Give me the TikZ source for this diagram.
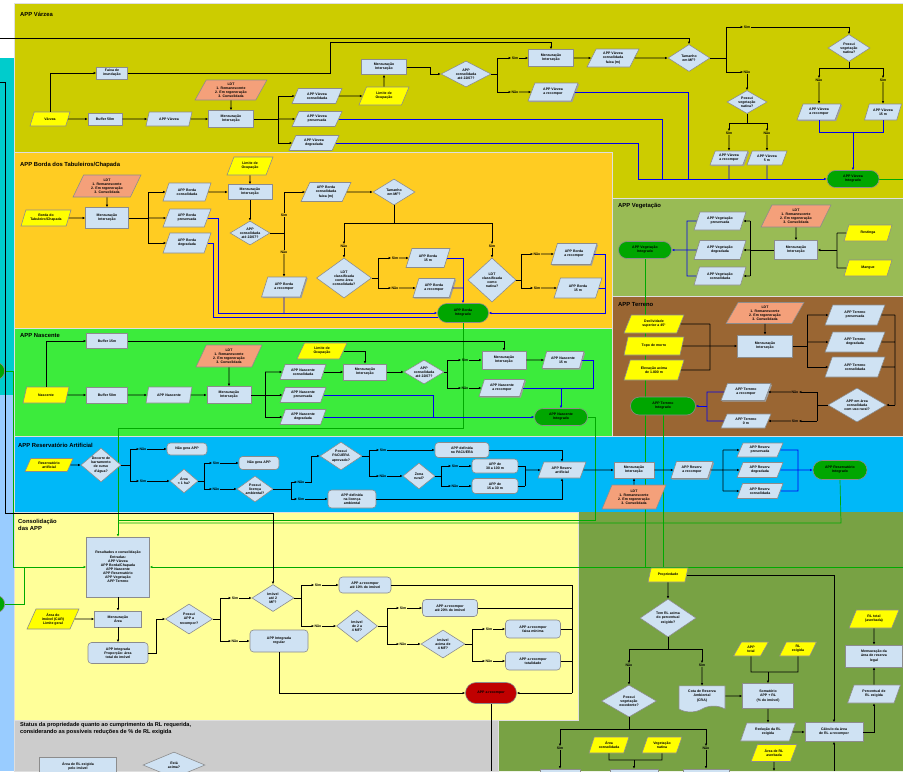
\documentclass[tikz,border=0pt]{standalone}
\usepackage{fontspec}
\setmainfont{Liberation Sans}
\usepackage{tikz}
\usetikzlibrary{arrows.meta,shapes.geometric,shapes.misc,shapes.symbols,shadows,backgrounds}
\definecolor{apvarzea}{HTML}{CCCC00}
\definecolor{apborda}{HTML}{FFCC22}
\definecolor{apveget}{HTML}{99BB55}
\definecolor{apterreno}{HTML}{9A6633}
\definecolor{apnasc}{HTML}{3CEB3C}
\definecolor{apreserv}{HTML}{00B8F8}
\definecolor{apconsol}{HTML}{FFFF99}
\definecolor{apolive}{HTML}{78A244}
\definecolor{apgray}{HTML}{CCCCCC}
\definecolor{apcyan}{HTML}{00CCCC}
\definecolor{apsky}{HTML}{99CCFF}
\definecolor{ndblue}{HTML}{CFE2F3}
\definecolor{ndyellow}{HTML}{FFFF00}
\definecolor{ndsalmon}{HTML}{F4A07A}
\definecolor{ndgreen}{HTML}{00A600}
\definecolor{ndred}{HTML}{C00000}
\definecolor{ndedge}{HTML}{8C8C8C}
\definecolor{lnblue}{HTML}{0000EE}
\definecolor{lngreen}{HTML}{00AA00}
\newcommand{\ldtlist}{LDT\\1. Remanescente\\2. Em regeneração\\3. Consolidada}

\begin{document}
\begin{tikzpicture}[x=0.03cm, y=-0.03cm,
  font=\fontsize{3}{3.5}\selectfont\bfseries,
  sz/.style 2 args={minimum width=#1*0.03cm, minimum height=#2*0.03cm},
  nd/.style={draw=ndedge, line width=0.5pt, fill=ndblue, align=center, inner sep=0.4pt},
  proc/.style={nd, rectangle},
  dat/.style={nd, trapezium, trapezium left angle=65, trapezium right angle=115, trapezium stretches=true},
  inp/.style={dat, fill=ndyellow},
  ldt/.style={dat, fill=ndsalmon},
  pile/.style={dat, drop shadow={shadow xshift=1pt, shadow yshift=-1pt, fill=gray!75, opacity=1}},
  dec/.style={nd, diamond, inner sep=-3pt},
  stat/.style={nd, rectangle, rounded corners=3pt},
  term/.style={nd, rounded rectangle, fill=ndgreen},
  stopbox/.style={term, fill=ndred},
  doc/.style={nd, tape, tape bend top=none},
  conn/.style={nd, circle, fill=ndgreen, minimum size=0.52cm},
  lbl/.style={inner sep=0.3pt},
  ttl/.style={anchor=west, inner sep=0pt, font=\fontsize{5}{6}\selectfont\bfseries},
  pnl/.style={draw=white!75!gray, line width=0.5pt},
  ln/.style={line width=0.75pt},
  arr/.style={ln, -{Latex[length=2.2pt,width=2pt]}},
  bl/.style={ln, draw=lnblue},
  barr/.style={arr, draw=lnblue},
  gl/.style={line width=0.6pt, draw=lngreen},
  garr/.style={gl, -{Latex[length=2.2pt,width=2pt]}}]
\useasboundingbox (0,0) rectangle (903,771);

% APP Varzea
\node[ttl] (tva) at (20,14) {APP Várzea};
\node[inp, sz={40}{14}] (va1) at (50,119) {Várzea};
\node[proc, sz={31}{12}] (va2) at (112,73) {Faixa de\\inundação};
\node[proc, sz={34}{12}] (va3) at (105,119) {Buffer 50m};
\node[dat, sz={46}{14}] (va4) at (169,119) {APP Várzea};
\node[proc, sz={45}{17}] (va5) at (231,119) {Mensuração\\Interseção};
\node[ldt, sz={72}{20}] (va6) at (231,90) {\ldtlist};
\node[dat, sz={50}{15}] (va7) at (317,96) {APP Várzea\\consolidada};
\node[dat, sz={50}{15}] (va8) at (317,119) {APP Várzea\\preservada};
\node[dat, sz={50}{15}] (va9) at (314,143) {APP Várzea\\degradada};
\node[inp, sz={50}{18}] (va10) at (384,96) {Limite de\\Ocupação};
\node[proc, sz={45}{15}] (va11) at (384,67) {Mensuração\\Interseção};
\node[dec, sz={50}{26}] (va12) at (466,74) {APP\\consolidada\\até 22/07?};
\node[lbl] (vs1) at (515,58) {Sim};
\node[lbl] (vn1) at (515,92) {Não};
\node[proc, sz={45}{17}] (va14) at (551,58) {Mensuração\\Interseção};
\node[dat, sz={52}{18}] (va15) at (613,58) {APP Várzea\\consolidada\\faixa (m)};
\node[dec, sz={42}{27}] (va16) at (689,58) {Tamanho\\em MF?};
\node[pile, sz={50}{18}] (va17) at (553,92) {APP Várzea\\a recompor};
\node[lbl] (vs2) at (747,27) {Sim};
\node[lbl] (vn2) at (747,72) {Não};
\node[dec, sz={42}{27}] (va19) at (849,48) {Possui\\vegetação\\nativa?};
\node[lbl] (vn3) at (819,80) {Não};
\node[lbl] (vs3) at (883,80) {Sim};
\node[pile, sz={44}{16}] (va21) at (819,112) {APP Várzea\\a recompor};
\node[dat, sz={37}{16}] (va22) at (883,112) {APP Várzea\\15 m};
\node[dec, sz={40}{23}] (va23) at (747,102) {Possui\\vegetação\\nativa?};
\node[lbl] (vs4) at (729,133) {Sim};
\node[lbl] (vn4) at (767,133) {Não};
\node[pile, sz={38}{14}] (va25) at (729,158) {APP Várzea\\a recompor};
\node[dat, sz={40}{14}] (va26) at (767,158) {APP Várzea\\5 m};
\node[term, sz={53}{17}] (va27) at (853,179) {APP Várzea\\Integrado};

% APP Borda
\node[ttl] (tbo) at (20,165) {APP Borda dos Tabuleiros/Chapada};
\node[inp, sz={50}{16}] (bo1) at (46,218) {Borda do\\Tabuleiro/Chapada};
\node[proc, sz={43}{21}] (bo2) at (107,218) {Mensuração\\Interseção};
\node[ldt, sz={68}{22}] (bo3) at (107,186) {\ldtlist};
\node[dat, sz={48}{18}] (bo4) at (187,192) {APP Borda\\consolidada};
\node[dat, sz={48}{18}] (bo5) at (187,218) {APP Borda\\preservada};
\node[dat, sz={48}{20}] (bo6) at (187,243) {APP Borda\\degradada};
\node[inp, sz={46}{18}] (bo7) at (250,166) {Limite de\\Ocupação};
\node[proc, sz={44}{15}] (bo8) at (250,192) {Mensuração\\Interseção};
\node[dec, sz={40}{24}] (bo9) at (250,233) {APP\\consolidada\\até 22/07?};
\node[lbl] (bs1) at (284,215) {Sim};
\node[lbl] (bn1) at (284,252) {Não};
\node[dat, sz={50}{19}] (bo10) at (326,192) {APP Borda\\consolidada\\faixa (m)};
\node[dec, sz={42}{26}] (bo11) at (394,192) {Tamanho\\em MF?};
\node[lbl] (bn2) at (344,246) {Não};
\node[lbl] (bs2) at (492,246) {Sim};
\node[dec, sz={55}{40}] (bo12) at (344,278) {LDT\\classificada\\como área\\consolidada?};
\node[dec, sz={48}{44}] (bo13) at (492,280) {LDT\\classificada\\como\\nativa?};
\node[pile, sz={45}{20}] (bo14) at (284,287) {APP Borda\\a recompor};
\node[lbl] (bs3) at (395,258) {Sim};
\node[lbl] (bn3) at (395,288) {Não};
\node[dat, sz={44}{19}] (bo15) at (428,258) {APP Borda\\15 m};
\node[pile, sz={42}{19}] (bo16) at (434,288) {APP Borda\\a recompor};
\node[lbl] (bn4) at (537,254) {Não};
\node[lbl] (bs4) at (537,288) {Sim};
\node[pile, sz={46}{21}] (bo17) at (574,254) {APP Borda\\a recompor};
\node[dat, sz={48}{20}] (bo18) at (578,288) {APP Borda\\15 m};
\node[term, sz={52}{19}] (bo19) at (463,313) {APP Borda\\Integrado};

% APP Vegetacao
\node[ttl] (tve) at (618,206) {APP Vegetação};
\node[term, sz={54}{17}] (ve1) at (645,250) {APP Vegetação\\Integrado};
\node[dat, sz={52}{18}] (ve2) at (720,221) {APP Vegetação\\preservada};
\node[dat, sz={52}{19}] (ve3) at (720,250) {APP Vegetação\\degradada};
\node[dat, sz={52}{18}] (ve4) at (720,276) {APP Vegetação\\consolidada};
\node[ldt, sz={70}{22}] (ve5) at (796,216) {\ldtlist};
\node[proc, sz={43}{19}] (ve6) at (796,250) {Mensuração\\Interseção};
\node[inp, sz={48}{16}] (ve7) at (868,233) {Restinga};
\node[inp, sz={48}{16}] (ve8) at (868,268) {Mangue};

% APP Terreno
\node[ttl] (tte) at (618,305) {APP Terreno};
\node[inp, sz={60}{18}] (te1) at (654,324) {Declividade\\superior a 45°};
\node[inp, sz={60}{18}] (te2) at (654,346) {Topo de morro};
\node[inp, sz={60}{20}] (te3) at (654,370) {Elevação acima\\de 1.800 m};
\node[ldt, sz={78}{21}] (te4) at (765,313) {\ldtlist};
\node[proc, sz={55}{22}] (te5) at (765,346) {Mensuração\\Interseção};
\node[dat, sz={60}{20}] (te6) at (855,315) {APP Terreno\\preservada};
\node[dat, sz={60}{20}] (te7) at (855,342) {APP Terreno\\degradada};
\node[dat, sz={60}{20}] (te8) at (855,367) {APP Terreno\\consolidada};
\node[dec, sz={58}{34}] (te9) at (857,405) {APP em área\\consolidada\\com uso rural?};
\node[lbl] (tn1) at (795,392) {Não};
\node[lbl] (ts1) at (795,421) {Sim};
\node[pile, sz={50}{17}] (te10) at (746,392) {APP Terreno\\a recompor};
\node[dat, sz={50}{14}] (te11) at (746,421) {APP Terreno\\0 m};
\node[term, sz={66}{18}] (te12) at (663,406) {APP Terreno\\Integrado};

% APP Nascente
\node[ttl] (tna) at (20,336) {APP Nascente};
\node[inp, sz={46}{16}] (na1) at (46,395) {Nascente};
\node[proc, sz={41}{16}] (na2) at (107,395) {Buffer 50m};
\node[proc, sz={41}{15}] (na3) at (107,341) {Buffer 15m};
\node[dat, sz={46}{16}] (na4) at (169,395) {APP Nascente};
\node[proc, sz={44}{17}] (na5) at (229,395) {Mensuração\\Interseção};
\node[ldt, sz={66}{22}] (na6) at (229,356) {\ldtlist};
\node[dat, sz={46}{15}] (na7) at (303,372) {APP Nascente\\consolidada};
\node[dat, sz={46}{15}] (na8) at (303,395) {APP Nascente\\preservada};
\node[dat, sz={46}{15}] (na9) at (303,417) {APP Nascente\\degradada};
\node[inp, sz={50}{16}] (na10) at (322,351) {Limite de\\Ocupação};
\node[proc, sz={43}{16}] (na11) at (365,372) {Mensuração\\Interseção};
\node[dec, sz={40}{24}] (na12) at (424,372) {APP\\consolidada\\até 22/07?};
\node[lbl] (ns1) at (465,360) {Sim};
\node[lbl] (nn1) at (465,388) {Não};
\node[proc, sz={44}{18}] (na13) at (504,360) {Mensuração\\Interseção};
\node[pile, sz={42}{17}] (na14) at (563,360) {APP Nascente\\15 m};
\node[pile, sz={46}{17}] (na15) at (502,388) {APP Nascente\\a recompor};
\node[term, sz={54}{17}] (na16) at (561,417) {APP Nascente\\Integrado};

% APP Reservatorio Artificial
\node[ttl] (tre) at (18,445) {APP Reservatório Artificial};
\node[inp, sz={48}{13}] (re1) at (49,465) {Reservatório\\artificial};
\node[dec, sz={40}{34}] (re2) at (101,465) {Decorre de\\barramento\\de curso\\d'água?};
\node[lbl] (rs1) at (143,449) {Não};
\node[lbl] (rn1) at (143,481) {Sim};
\node[stat, sz={40}{12}] (re3) at (187,449) {Não gera APP};
\node[dec, sz={28}{24}] (re4) at (184,481) {Área\\< 1 ha?};
\node[lbl] (rs2) at (216,463) {Sim};
\node[lbl] (rn2) at (216,489) {Não};
\node[stat, sz={40}{13}] (re5) at (259,463) {Não gera APP};
\node[dec, sz={36}{26}] (re6) at (255,489) {Possui\\licença\\ambiental?};
\node[lbl] (rs3) at (301,482) {Não};
\node[lbl] (rn3) at (301,499) {Sim};
\node[dec, sz={42}{28}] (re7) at (341,456) {Possui\\PACUERA\\aprovado?};
\node[lbl] (rs4) at (383,450) {Sim};
\node[lbl] (rn4) at (383,476) {Não};
\node[stat, sz={48}{18}] (re8) at (352,499) {APP definida\\na licença\\ambiental};
\node[stat, sz={54}{15}] (re9) at (462,450) {APP definida\\no PACUERA};
\node[dec, sz={32}{26}] (re10) at (419,476) {Zona\\rural?};
\node[lbl] (rs5) at (455,466) {Sim};
\node[lbl] (rn5) at (455,486) {Não};
\node[stat, sz={46}{14}] (re11) at (495,466) {APP de\\30 a 100 m};
\node[stat, sz={46}{15}] (re12) at (495,486) {APP de\\15 a 30 m};
\node[dat, sz={48}{16}] (re13) at (562,470) {APP Reserv.\\artificial};
\node[proc, sz={40}{16}] (re14) at (634,470) {Mensuração\\Interseção};
\node[ldt, sz={64}{24}] (re15) at (634,497) {\ldtlist};
\node[pile, sz={42}{17}] (re16) at (692,470) {APP Reserv.\\a recompor};
\node[dat, sz={46}{14}] (re17) at (760,450) {APP Reserv.\\preservada};
\node[dat, sz={46}{15}] (re18) at (760,470) {APP Reserv.\\degradada};
\node[dat, sz={46}{15}] (re19) at (760,491) {APP Reserv.\\consolidada};
\node[term, sz={55}{19}] (re20) at (840,470) {APP Reservatório\\Integrado};

% Consolidacao das APP
\node[ttl, anchor=north west, align=left] (tco) at (18,519) {Consolidação\\das APP};
\node[proc, sz={63}{60}] (co1) at (118,567) {Resultados e consolidação\\Entradas:\\APP Várzea\\APP Borda/Chapada\\APP Nascente\\APP Reservatório\\APP Vegetação\\APP Terreno};
\node[inp, sz={52}{20}] (co2) at (53,619) {Área do\\imóvel (CAR)\\Limite geral};
\node[proc, sz={47}{16}] (co3) at (118,619) {Mensuração\\Área};
\node[stat, sz={60}{21}] (co4) at (118,653) {APP Integrada\\Proporção: área\\total do imóvel};
\node[dec, sz={47}{30}] (co5) at (189,619) {Possui\\APP a\\recompor?};
\node[lbl] (cs1) at (235,598) {Sim};
\node[lbl] (cn1) at (235,641) {Não};
\node[dec, sz={42}{27}] (co6) at (273,598) {Imóvel\\até 2\\MF?};
\node[stat, sz={58}{22}] (co7) at (279,641) {APP Integrada\\regular};
\node[lbl] (cs2) at (318,585) {Sim};
\node[lbl] (cn2) at (318,626) {Não};
\node[stat, sz={52}{16}] (co8) at (365,585) {APP a recompor\\até 10\% do imóvel};
\node[dec, sz={41}{32}] (co9) at (357,626) {Imóvel\\de 2 a\\4 MF?};
\node[lbl] (cs3) at (403,608) {Sim};
\node[lbl] (cn3) at (403,644) {Não};
\node[stat, sz={55}{17}] (co10) at (450,608) {APP a recompor\\até 20\% do imóvel};
\node[dec, sz={44}{28}] (co11) at (443,644) {Imóvel\\acima de\\4 MF?};
\node[lbl] (cs4) at (489,629) {Sim};
\node[lbl] (cn4) at (489,661) {Não};
\node[stat, sz={55}{18}] (co12) at (533,629) {APP a recompor\\faixa mínima};
\node[stat, sz={55}{18}] (co13) at (533,661) {APP a recompor\\totalidade};
\node[stopbox, sz={52}{21}] (co14) at (491,693) {APP a recompor};

% Status da propriedade
\node[ttl, anchor=north west, align=left, font=\fontsize{4.8}{6}\selectfont\bfseries] (tst) at (20,722) {Status da propriedade quanto ao cumprimento da RL requerida,\\considerando as possíveis reduções de \% de RL exigida};
\node[proc, sz={77}{18}] (st1) at (78,766) {Área de RL exigida\\pelo imóvel};
\node[dec, sz={62}{26}] (st2) at (174,765) {Está\\acima?};

% Propriedade / reserva legal
\node[inp, sz={40}{14}] (pr1) at (668,575) {Propriedade};
\node[dec, sz={56}{38}] (pr2) at (668,618) {Tem RL acima\\do percentual\\exigido?};
\node[lbl] (pn1) at (629,665) {Não};
\node[lbl] (ps1) at (702,665) {Sim};
\node[dec, sz={55}{32}] (pr3) at (629,701) {Possui\\vegetação\\excedente?};
\node[doc, sz={46}{26}] (pr4) at (702,696) {Cota de Reserva\\Ambiental\\(CRA)};
\node[inp, sz={35}{14}] (pr5) at (751,649) {APP\\total};
\node[inp, sz={37}{14}] (pr6) at (798,649) {RL\\exigida};
\node[proc, sz={51}{25}] (pr7) at (768,696) {Somatório\\APP + RL\\(\% do imóvel)};
\node[dat, sz={55}{18}] (pr8) at (768,732) {Redução da RL\\exigida};
\node[proc, sz={58}{19}] (pr9) at (834,732) {Cálculo da área\\de RL a recompor};
\node[inp, sz={50}{18}] (pr10) at (874,619) {RL total\\(averbada)};
\node[proc, sz={57}{22}] (pr11) at (874,656) {Mensuração da\\área de reserva\\legal};
\node[dat, sz={53}{18}] (pr12) at (874,694) {Percentual de\\RL exigida};
\node[inp, sz={46}{17}] (pr13) at (774,753) {Área de RL\\averbada};
\node[inp, sz={40}{16}] (pr14) at (609,745) {Área\\consolidada};
\node[inp, sz={40}{16}] (pr15) at (662,745) {Vegetação\\nativa};
\node[lbl] (ps2) at (560,748) {Sim};
\node[lbl] (pn2) at (706,748) {Não};
\node[proc, sz={40}{18}] (pq1) at (560,778) {};
\node[proc, sz={48}{18}] (pq2) at (634,778) {};
\node[proc, sz={46}{18}] (pq3) at (706,778) {};

\node[conn] (cna) at (-4,371) {};
\node[conn] (cnb) at (-4,604) {};

% ligacoes Varzea
\draw[arr] (va1) -- (va3);
\draw[arr] (va3) -- (va4);
\draw[arr] (va4) -- (va5);
\draw[arr] (va1.north) |- (va2.west);
\draw[arr] (va2.east) -| (330,42) -| (va14.north);
\draw[arr] (0,38) -| (va16.north);
\draw[arr] (va6) -- (va5);
\draw[ln] (va5.east) -- (278,119);
\draw[arr] (278,119) |- (va7.west);
\draw[arr] (278,119) -- (va8.west);
\draw[arr] (278,119) |- (va9.west);
\draw[arr] (va7) -- (va10);
\draw[arr] (va10) -- (va11);
\draw[arr] (va11.east) -| (430,74) -- (va12.west);
\draw[ln] (va12.east) -- (497,74);
\draw[arr] (497,74) |- (vs1.west);
\draw[arr] (vs1) -- (va14);
\draw[arr] (497,74) |- (vn1.west);
\draw[arr] (vn1) -- (va17);
\draw[arr] (va14) -- (va15);
\draw[arr] (va15) -- (va16);
\draw[ln] (va16.east) -- (726,58);
\draw[arr] (726,58) |- (vs2.west);
\draw[arr] (vs2.east) -| (va19.north);
\draw[arr] (726,58) |- (vn2.west);
\draw[arr] (vn2) -- (va23);
\draw[ln] (va19.south) -- (849,68) (819,68) -- (883,68);
\draw[arr] (819,68) -- (vn3);
\draw[arr] (vn3) -- (va21);
\draw[arr] (883,68) -- (vs3);
\draw[arr] (vs3) -- (va22);
\draw[ln] (va23.south) -- (747,123) (729,123) -- (767,123);
\draw[arr] (729,123) -- (vs4);
\draw[arr] (vs4) -- (va25);
\draw[arr] (767,123) -- (vn4);
\draw[arr] (vn4) -- (va26);
\draw[barr] (va9.east) -| (638,179) -- (va27.west);
\draw[bl] (va8.east) -| (662,179);
\draw[bl] (va17.east) -| (688,179);
\draw[bl] (va25.south) -- (729,179);
\draw[bl] (va26.south) -- (767,179);
\draw[bl] (va21.south) |- (853,132);
\draw[bl] (va22.south) |- (853,132);
\draw[barr] (853,132) -- (va27.north);

% ligacoes Borda
\draw[arr] (bo1) -- (bo2);
\draw[arr] (bo3) -- (bo2);
\draw[ln] (bo2.east) -- (148,218);
\draw[arr] (148,218) |- (bo4.west);
\draw[arr] (148,218) -- (bo5.west);
\draw[arr] (148,218) |- (bo6.west);
\draw[arr] (bo4) -- (bo8);
\draw[arr] (bo7) -- (bo8);
\draw[arr] (bo8) -- (bo9);
\draw[ln] (bo9.east) -- (284,233) -- (bs1);
\draw[arr] (bs1) |- (bo10.west);
\draw[ln] (284,233) -- (bn1);
\draw[arr] (bn1) -- (bo14);
\draw[arr] (bo10) -- (bo11);
\draw[ln] (bo11.south) -- (394,223) (344,223) -- (492,223);
\draw[arr] (344,223) -- (bn2);
\draw[arr] (bn2) -- (bo12);
\draw[arr] (492,223) -- (bs2);
\draw[arr] (bs2) -- (bo13);
\draw[ln] (bo12.east) -- (378,278);
\draw[arr] (378,278) |- (bs3.west);
\draw[arr] (bs3) -- (bo15);
\draw[arr] (378,278) |- (bn3.west);
\draw[arr] (bn3) -- (bo16);
\draw[ln] (bo13.east) -- (521,280);
\draw[arr] (521,280) |- (bn4.west);
\draw[arr] (bn4) -- (bo17);
\draw[arr] (521,280) |- (bs4.west);
\draw[arr] (bs4) -- (bo18);
\draw[barr] (bo5.east) -| (218,313) -- (bo19.west);
\draw[bl] (bo6.east) -| (213,317) -- (438,317);
\draw[bl] (bo14.south) -- (284,313);
\draw[barr] (bo15.east) -| (bo19.north);
\draw[bl] (bo16.east) -- (463,288);
\draw[barr] (bo17.east) -| (605,313) -- (bo19.east);
\draw[bl] (bo18.east) -- (605,288);

% ligacoes Vegetacao
\draw[ln] (ve7.west) -- (837,233) (ve8.west) -- (837,268) (837,233) -- (837,268);
\draw[arr] (837,250) -- (ve6.east);
\draw[arr] (ve5) -- (ve6);
\draw[ln] (ve6.west) -- (750,250) (750,221) -- (750,276);
\draw[arr] (750,221) -- (ve2.east);
\draw[arr] (750,250) -- (ve3.east);
\draw[arr] (750,276) -- (ve4.east);
\draw[bl] (ve2.west) -| (687,276) -- (ve4.west);
\draw[barr] (ve3.west) -- (ve1.east);

% ligacoes Terreno
\draw[ln] (te1.east) -- (710,324) (te3.east) -- (710,370) (710,324) -- (710,370);
\draw[arr] (te2) -- (te5);
\draw[arr] (te4) -- (te5);
\draw[ln] (te5.east) -- (807,346) (807,315) -- (807,367);
\draw[arr] (807,315) -- (te6.west);
\draw[arr] (807,342) -- (te7.west);
\draw[arr] (807,367) -- (te8.west);
\draw[ln] (te6.east) -- (895,315) (te7.east) -- (895,342) (te8.east) -- (895,367) (895,315) -- (895,405);
\draw[arr] (895,405) -- (te9.east);
\draw[ln] (te9.west) -- (817,405) (817,392) -- (817,421);
\draw[arr] (817,392) -- (tn1);
\draw[arr] (tn1) -- (te10);
\draw[arr] (817,421) -- (ts1);
\draw[arr] (ts1) -- (te11);
\draw[bl] (te10.west) -| (707,421) -- (te11.west);
\draw[barr] (707,406) -- (te12.east);

% ligacoes Nascente
\draw[arr] (na1) -- (na2);
\draw[arr] (na2) -- (na4);
\draw[arr] (na4) -- (na5);
\draw[arr] (na1.north) |- (na3.west);
\draw[arr] (na3.east) -| (na13.north);
\draw[arr] (na6) -- (na5);
\draw[ln] (na5.east) -- (265,395) (265,372) -- (265,417);
\draw[arr] (265,372) -- (na7.west);
\draw[arr] (265,395) -- (na8.west);
\draw[arr] (265,417) -- (na9.west);
\draw[arr] (na7) -- (na11);
\draw[arr] (na10.east) -| (na11.north);
\draw[arr] (na11) -- (na12);
\draw[ln] (na12.east) -- (447,372);
\draw[arr] (447,372) |- (ns1.west);
\draw[arr] (ns1) -- (na13);
\draw[arr] (447,372) |- (nn1.west);
\draw[arr] (nn1) -- (na15);
\draw[arr] (na13) -- (na14);
\draw[bl] (na14.east) -| (593,388) -- (561,388);
\draw[bl] (na15.east) -- (561,388);
\draw[barr] (561,388) -- (na16.north);
\draw[bl] (na8.east) -| (433,417);
\draw[barr] (na9.east) -- (na16.west);

% ligacoes Reservatorio
\draw[arr] (re1) -- (re2);
\draw[ln] (re2.east) -- (130,465);
\draw[arr] (130,465) |- (rs1.west);
\draw[arr] (rs1) -- (re3);
\draw[arr] (130,465) |- (rn1.west);
\draw[arr] (rn1) -- (re4);
\draw[ln] (re4.east) -- (204,481);
\draw[arr] (204,481) |- (rs2.west);
\draw[arr] (rs2) -- (re5);
\draw[arr] (204,481) |- (rn2.west);
\draw[arr] (rn2) -- (re6);
\draw[ln] (re6.east) -- (291,489);
\draw[arr] (291,489) |- (rs3.west);
\draw[arr] (rs3.east) -- (311,482) |- (re7.west);
\draw[arr] (291,489) |- (rn3.west);
\draw[arr] (rn3) -- (re8);
\draw[ln] (re7.east) -- (369,456);
\draw[arr] (369,456) |- (rs4.west);
\draw[arr] (rs4) -- (re9);
\draw[arr] (369,456) |- (rn4.west);
\draw[arr] (rn4) -- (re10);
\draw[ln] (re10.east) -- (441,476);
\draw[arr] (441,476) |- (rs5.west);
\draw[arr] (rs5) -- (re11);
\draw[arr] (441,476) |- (rn5.west);
\draw[arr] (rn5) -- (re12);
\draw[ln] (re11.east) -- (525,466) (re12.east) -- (525,486) (525,466) -- (525,486);
\draw[arr] (525,470) -- (re13.west);
\draw[arr] (re9.east) -| (re13.north);
\draw[arr] (re8.east) -| (re13.south);
\draw[arr] (re13) -- (re14);
\draw[arr] (re15) -- (re14);
\draw[arr] (re14) -- (re16);
\draw[ln] (re16.east) -- (723,470) (723,450) -- (723,491);
\draw[arr] (723,450) -- (re17.west);
\draw[arr] (723,470) -- (re18.west);
\draw[arr] (723,491) -- (re19.west);
\draw[bl] (re17.east) -- (798,450) -- (798,491) -- (re19.east);
\draw[barr] (re18.east) -- (re20.west);

% ligacoes Consolidacao
\draw[arr] (co1) -- (co3);
\draw[arr] (co2) -- (co3);
\draw[arr] (co3) -- (co4);
\draw[arr] (co4.east) -| (156,619) -- (co5.west);
\draw[ln] (co5.east) -- (220,619);
\draw[arr] (220,619) |- (cs1.west);
\draw[arr] (cs1) -- (co6);
\draw[arr] (220,619) |- (cn1.west);
\draw[arr] (cn1) -- (co7);
\draw[ln] (0,82) -- (5,82);
\draw[arr] (5,82) -- (5,513) -| (co6.north);
\draw[ln] (co6.east) -- (301,598);
\draw[arr] (301,598) |- (cs2.west);
\draw[arr] (cs2) -- (co8);
\draw[arr] (301,598) |- (cn2.west);
\draw[arr] (cn2) -- (co9);
\draw[ln] (co9.east) -- (387,626);
\draw[arr] (387,626) |- (cs3.west);
\draw[arr] (cs3) -- (co10);
\draw[arr] (387,626) |- (cn3.west);
\draw[arr] (cn3) -- (co11);
\draw[ln] (co11.east) -- (472,644);
\draw[arr] (472,644) |- (cs4.west);
\draw[arr] (cs4) -- (co12);
\draw[arr] (472,644) |- (cn4.west);
\draw[arr] (cn4) -- (co13);
\draw[ln] (co8.east) -- (572,585) (co10.east) -- (572,608) (co12.east) -- (572,629) (co13.east) -- (572,661) (572,585) -- (572,693);
\draw[arr] (572,693) -- (co14.east);
\draw[arr] (co7.south) |- (co14.west);
\draw[ln] (co14.south) -- (491,771);

% ligacoes Propriedade
\draw[arr] (pr1) -- (pr2);
\draw[arr] (pr1.east) -| (pr9.north);
\draw[ln] (pr2.south) -- (668,649) (629,649) -- (702,649);
\draw[arr] (629,649) -- (pn1);
\draw[arr] (pn1) -- (pr3);
\draw[arr] (702,649) -- (ps1);
\draw[arr] (ps1) -- (pr4);
\draw[arr] (pr4) -- (pr7);
\draw[ln] (pr5.south) |- (798,672) -- (pr6.south);
\draw[arr] (768,672) -- (pr7);
\draw[arr] (pr7) -- (pr8);
\draw[arr] (pr8) -- (pr9);
\draw[arr] (pr9.east) -| (pr12.south);
\draw[arr] (pr12) -- (pr11);
\draw[arr] (pr10) -- (pr11);
\draw[ln] (pr11.east) -- (903,656);
\draw[arr] (834,771) -- (pr9.south);
\draw[ln] (pr3.south) -- (629,729) (560,729) -- (706,729);
\draw[arr] (560,729) -- (ps2);
\draw[arr] (ps2) -- (pq1);
\draw[arr] (706,729) -- (pn2);
\draw[arr] (pn2) -- (pq3);
\draw[ln] (pr14.south) |- (662,760) -- (pr15.south);
\draw[arr] (634,760) -- (pq2);
\draw[arr] (pr13.south) -- (774,771);

% faixas de fundo
\begin{scope}[on background layer]
\fill[white] (0,0) rectangle (903,771);
\fill[apcyan] (0,58) rectangle (14,395);
\fill[apsky] (0,395) rectangle (14,771);
\filldraw[pnl, fill=apvarzea] (14,3) rectangle (903,198);
\filldraw[pnl, fill=apborda] (14,152) rectangle (612,328);
\filldraw[pnl, fill=apveget] (612,198) rectangle (903,296);
\filldraw[pnl, fill=apterreno] (612,296) rectangle (903,436);
\filldraw[pnl, fill=apnasc] (14,328) rectangle (612,436);
\filldraw[pnl, fill=apreserv] (14,436) rectangle (903,512);
\fill[apolive] (578,512) rectangle (903,771) (498,720) rectangle (578,771);
\filldraw[pnl, fill=apconsol] (14,512) rectangle (578,720);
\filldraw[pnl, fill=apgray] (14,720) rectangle (498,771);
\end{scope}
\begin{scope}[on background layer]
\draw[gl] (va27.east) -- (903,179);
\draw[garr] (bo19.south) -- (463,428) -- (118,428) -- (co1.north);
\draw[gl] (na16.east) -- (595,417) -- (595,520) -- (118,520);
\draw[gl] (re20.south) -- (841,523) -- (118,523);
\draw[gl] (ve1.south) -- (645,567);
\draw[gl] (te12.south) -- (663,567);
\draw[garr] (903,567) -- (co1.east);
\draw[gl] (cna.east) -- (13,371) -- (13,567);
\draw[garr] (13,567) -- (co1.west);
\draw[gl] (cnb.east) -- (24,604) -- (24,567);
\end{scope}
\end{tikzpicture}
\end{document}
